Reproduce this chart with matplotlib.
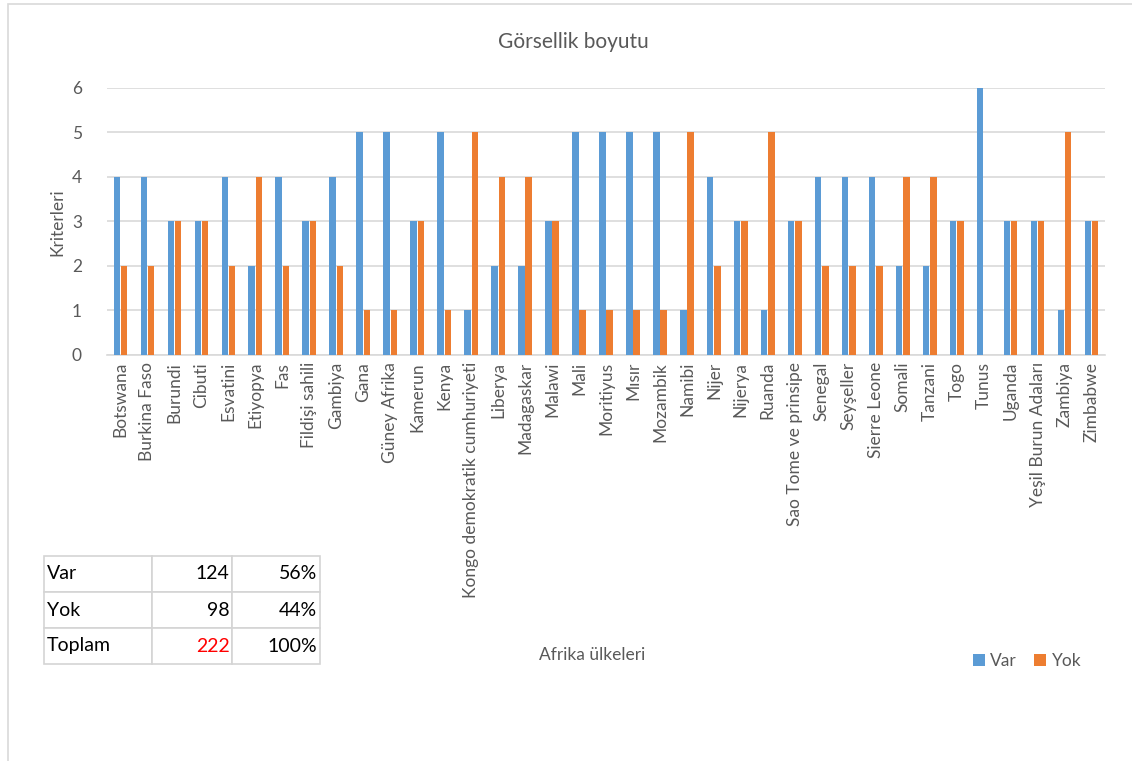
import numpy as np
import matplotlib
matplotlib.use("Agg")
import matplotlib.pyplot as plt
from matplotlib.patches import Rectangle

plt.rcParams['font.family'] = ['Lato', 'DejaVu Sans']

countries = ["Botswana", "Burkina Faso", "Burundi", "Cibuti", "Esvatini", "Etiyopya", "Fas",
             "Fildişi sahili", "Gambiya", "Gana", "Güney Afrika", "Kamerun", "Kenya",
             "Kongo demokratik cumhuriyeti", "Liberya", "Madagaskar", "Malawi", "Mali",
             "Moritiyus", "Mısır", "Mozambik", "Namibi", "Nijer", "Nijerya", "Ruanda",
             "Sao Tome ve prinsipe", "Senegal", "Seyşeller", "Sierre Leone", "Somali",
             "Tanzani", "Togo", "Tunus", "Uganda", "Yeşil Burun Adaları", "Zambiya", "Zimbabwe"]
var = [4, 4, 3, 3, 4, 2, 4, 3, 4, 5, 5, 3, 5, 1, 2, 2, 3, 5, 5, 5, 5, 1, 4, 3, 1,
       3, 4, 4, 4, 2, 2, 3, 6, 3, 3, 1, 3]
yok = [2, 2, 3, 3, 2, 4, 2, 3, 2, 1, 1, 3, 1, 5, 4, 4, 3, 1, 1, 1, 1, 5, 2, 3, 5,
       3, 2, 2, 2, 4, 4, 3, 0, 3, 3, 5, 3]

table_rows = ["Var", "Yok", "Toplam"]
table_counts = ["124", "98", "222"]
table_pcts = ["56%", "44%", "100%"]

blue = "#5b9bd5"
orange = "#ed7d31"
grey = "#595959"

fig = plt.figure(figsize=(11.32, 7.61), dpi=100)

# outer chart frame
fig.patches.append(Rectangle((8 / 1132, -0.01), 1.2, 1 - 4 / 761 + 0.01, transform=fig.transFigure,
                             fill=False, edgecolor="#d9d9d9", linewidth=1.2))

ax = fig.add_axes([107 / 1132, 1 - 355 / 761, 998 / 1132, 267 / 761])
x = np.arange(len(countries))
w = 0.24
ax.bar(x - w / 2 - 0.015, var, w, color=blue, label="Var", zorder=3)
ax.bar(x + w / 2 + 0.015, yok, w, color=orange, label="Yok", zorder=3)

ax.set_xlim(-0.5, len(countries) - 0.5)
ax.set_ylim(0, 6)
ax.set_yticks(range(7))
ax.grid(axis="y", color="#d9d9d9", linewidth=1.2, zorder=0)
for s in ["top", "right", "left"]:
    ax.spines[s].set_visible(False)
ax.spines["bottom"].set_color("#d9d9d9")
ax.spines["bottom"].set_linewidth(1.2)
ax.tick_params(axis="both", length=0, colors=grey, labelsize=12.5)
ax.tick_params(axis="y", pad=18)
ax.tick_params(axis="x", pad=5)
ax.set_xticks(x)
ax.set_xticklabels(countries, rotation=90, fontsize=12.5, color=grey)

fig.text(573 / 1132, 1 - 42 / 761, "Görsellik boyutu", ha="center", va="center",
         fontsize=15, color=grey)
fig.text(57 / 1132, 1 - 222 / 761, "Kriterleri", rotation=90, ha="center", va="center",
         fontsize=12.5, color=grey)
fig.text(592 / 1132, 1 - 655 / 761, "Afrika ülkeleri", ha="center", va="center",
         fontsize=12.5, color=grey)

ax.legend(loc="center", bbox_to_anchor=(1027 / 1132, 1 - 661 / 761),
          bbox_transform=fig.transFigure, ncol=2, frameon=False, fontsize=12.5,
          handlelength=0.7, handleheight=0.7, handletextpad=0.3, columnspacing=1.0,
          labelcolor=grey)

# summary table
tax = fig.add_axes([44 / 1132, 1 - 664 / 761, 276 / 1132, 108 / 761])
tax.axis("off")
cells = [[r, c, p] for r, c, p in zip(table_rows, table_counts, table_pcts)]
tbl = tax.table(cellText=cells, bbox=[0, 0, 1, 1], colWidths=[108, 80, 88],
                cellLoc="right")
tbl.auto_set_font_size(False)
for (i, j), cell in tbl.get_celld().items():
    cell.set_edgecolor("#d4d4d4")
    cell.set_linewidth(1.2)
    cell.get_text().set_fontsize(14)
    cell.get_text().set_color("black")
    if j == 0:
        cell.get_text().set_ha("left")
        cell._loc = "left"
    cell.PAD = 0.03
tbl[2, 1].get_text().set_color("red")

fig.savefig("out.png", dpi=100)
